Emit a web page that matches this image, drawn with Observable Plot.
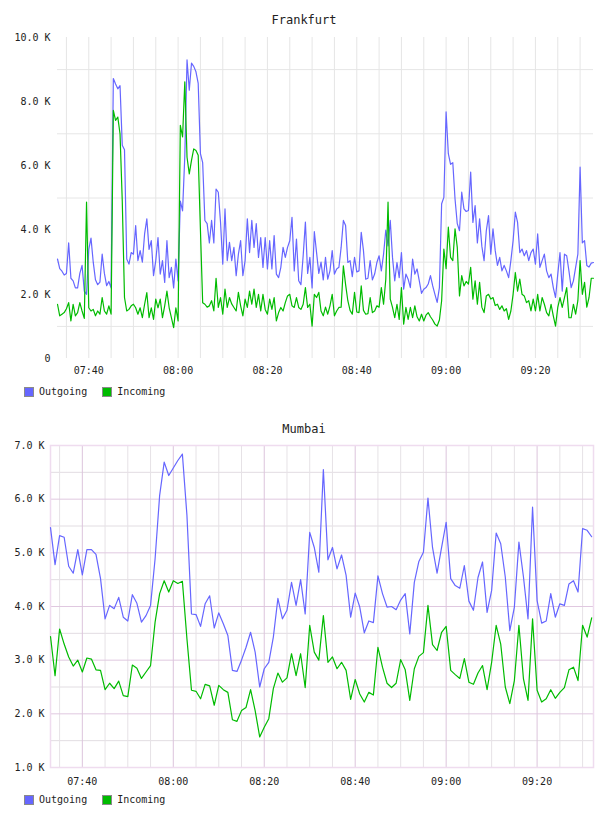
<!DOCTYPE html>
<html>
<head>
<meta charset="utf-8">
<script src="https://cdn.jsdelivr.net/npm/d3@7"></script>
<script src="https://cdn.jsdelivr.net/npm/@observablehq/plot@0.6"></script>
<style>
  body { margin: 0; background: #fff; }
  #page { position: relative; width: 608px; height: 816px; font-family: "DejaVu Sans Mono", monospace; color: #222; }
  .title { position: absolute; left: 0; width: 608px; text-align: center; font-size: 12px; line-height: 12px; }
  .chart { position: absolute; left: 0; }
  .legend { position: absolute; left: 24px; display: flex; align-items: center; font-size: 10px; line-height: 10px; }
  .item { display: flex; align-items: center; margin-right: 15px; }
  .sw { display: inline-block; width: 8px; height: 8px; border: 1px solid #8a8a8a; margin-right: 5px; }
</style>
</head>
<body>
<div id="page">
  <div class="title" style="top:14px">Frankfurt</div>
  <div class="chart" id="frankfurt" style="top:30px"></div>
  <div class="legend" style="top:387px">
    <span class="item"><span class="sw" style="background:#6666ff"></span>Outgoing</span>
    <span class="item"><span class="sw" style="background:#00bb00"></span>Incoming</span>
  </div>
  <div class="title" style="top:423px">Mumbai</div>
  <div class="chart" id="mumbai" style="top:438px"></div>
  <div class="legend" style="top:795px">
    <span class="item"><span class="sw" style="background:#6666ff"></span>Outgoing</span>
    <span class="item"><span class="sw" style="background:#00bb00"></span>Incoming</span>
  </div>
</div>
<script>
// Frankfurt: one sample every 30 s, values in thousands
const frOutgoing = [
  3.1, 2.8, 2.72, 2.6, 2.65, 3.6, 2.5, 2.42, 2.2, 2.2,
  2.65, 2.9, 2.1, 2.0, 3.4, 3.75, 3.0, 2.45, 2.3, 2.38,
  3.25, 2.65, 2.27, 2.4, 2.2, 8.72, 8.55, 8.4, 8.5, 6.64,
  6.5, 3.1, 2.94, 3.3, 3.25, 4.14, 3.05, 3.36, 3.0, 3.88,
  4.35, 3.4, 3.67, 2.58, 3.05, 3.77, 2.63, 3.05, 2.37, 3.67,
  2.52, 2.84, 2.2, 3.1, 2.42, 4.9, 4.6, 6.3, 9.3, 8.36,
  9.2, 9.1, 8.93, 8.57, 6.38, 6.1, 4.3, 4.2, 3.6, 4.3,
  3.6, 5.28, 5.18, 4.24, 2.94, 4.66, 3.05, 3.62, 3.05, 3.46,
  2.58, 3.25, 3.67, 2.58, 3.05, 4.35, 3.3, 4.3, 3.46, 4.2,
  3.15, 3.77, 2.84, 3.77, 2.79, 3.67, 2.79, 3.83, 2.63, 2.52,
  2.84, 3.46, 3.15, 3.46, 3.67, 4.4, 2.73, 3.72, 2.42, 2.3,
  3.2, 4.25, 2.65, 3.15, 2.2, 3.95, 3.3, 2.65, 3.0, 2.45,
  3.15, 2.47, 2.73, 3.36, 2.63, 2.79, 2.84, 3.46, 4.3, 4.14,
  2.99, 3.05, 2.55, 3.15, 2.7, 2.73, 3.93, 3.36, 2.47, 2.5,
  3.05, 2.45, 2.63, 2.99, 3.2, 2.73, 3.25, 4.0, 3.51, 4.3,
  3.15, 2.42, 2.99, 2.52, 3.3, 2.16, 2.63, 2.47, 2.21, 3.1,
  2.63, 2.79, 2.42, 2.03, 2.16, 2.21, 2.32, 2.58, 2.26, 2.0,
  1.75, 2.21, 4.82, 5.02, 7.68, 6.38, 6.05, 6.1, 4.97, 4.2,
  3.98, 5.18, 4.66, 4.58, 4.61, 5.81, 4.24, 4.76, 3.6, 4.35,
  3.5, 3.05, 3.98, 4.45, 3.25, 4.04, 3.36, 2.9, 3.15, 2.73,
  2.9, 2.73, 2.52, 3.05, 3.67, 4.56, 4.24, 3.3, 3.41, 3.2,
  3.36, 3.05, 3.3, 3.41, 2.94, 3.88, 2.84, 3.05, 3.25, 2.73,
  2.52, 2.63, 2.21, 1.9, 2.63, 3.3, 2.1, 3.25, 3.2, 2.73,
  2.21, 2.42, 2.84, 3.25, 5.96, 3.6, 3.67, 2.9, 2.85, 2.97,
  2.99
];
const frIncoming = [
  1.69, 1.33, 1.38, 1.43, 1.55, 1.74, 1.17, 1.69, 1.33, 1.43,
  1.74, 1.48, 1.25, 4.87, 1.58, 1.48, 1.53, 1.33, 1.48, 1.38,
  1.9, 1.48, 1.38, 1.64, 1.38, 7.73, 7.42, 7.52, 7.0, 4.9,
  1.9, 1.48, 1.53, 1.64, 1.69, 1.58, 1.38, 1.58, 1.27, 1.69,
  2.05, 1.27, 1.58, 1.22, 1.85, 1.58, 1.85, 1.27, 1.64, 2.1,
  1.58, 1.27, 0.96, 1.58, 1.17, 7.26, 6.9, 8.62, 6.27, 5.75,
  6.17, 6.53, 6.48, 6.33, 4.0, 1.74, 1.69, 1.6, 1.64, 1.8,
  1.48, 2.5, 1.59, 1.9, 1.38, 2.16, 1.59, 1.9, 1.7, 1.59,
  1.48, 2.06, 1.64, 1.33, 1.85, 1.59, 2.1, 1.69, 2.16, 1.59,
  2.0, 1.48, 2.0, 1.53, 1.38, 1.85, 1.53, 1.9, 1.17, 1.43,
  1.59, 1.48, 1.74, 1.95, 2.0, 1.64, 1.59, 1.9, 1.59, 1.53,
  1.69, 2.21, 1.59, 1.69, 1.01, 2.0, 1.9, 2.06, 1.48, 1.33,
  1.6, 1.38, 1.64, 2.0, 1.33, 1.48, 1.59, 1.6, 2.89, 2.3,
  1.8, 1.5, 1.38, 2.06, 1.45, 1.43, 2.26, 1.5, 1.38, 1.4,
  1.9, 1.43, 1.48, 1.64, 1.6, 2.21, 1.69, 2.47, 4.87, 1.85,
  1.59, 1.27, 1.69, 1.22, 2.21, 1.07, 1.59, 1.22, 1.59, 1.27,
  1.64, 1.3, 1.17, 1.38, 1.17, 1.35, 1.43, 1.3, 1.2, 1.07,
  1.01, 1.2, 1.8, 3.41, 2.8, 4.09, 3.15, 3.05, 4.04, 3.46,
  1.95, 2.58, 2.26, 2.4, 2.32, 2.84, 1.85, 2.42, 1.69, 2.37,
  1.6, 1.43, 1.95, 2.0, 1.85, 1.9, 1.65, 1.69, 1.53, 1.64,
  1.48, 1.55, 1.22, 1.48, 2.0, 2.68, 2.1, 2.47, 2.0, 1.95,
  1.74, 1.8, 1.48, 1.85, 1.48, 2.0, 1.48, 1.9, 1.69, 1.43,
  1.33, 1.69, 1.33, 1.01, 1.59, 1.9, 1.59, 1.9, 2.21, 1.27,
  1.27, 1.69, 1.38, 1.8, 3.05, 2.0, 2.37, 1.6, 1.9, 2.5,
  2.5
];

// Mumbai: one sample per minute, values in thousands
const mbOutgoing = [
  5.47, 4.78, 5.32, 5.29, 4.75, 4.62, 5.06, 4.59, 5.06, 5.06,
  4.97, 4.52, 3.77, 4.02, 3.96, 4.17, 3.8, 3.73, 4.22, 4.06,
  3.71, 3.83, 4.02, 4.89, 6.07, 6.69, 6.44, 6.58, 6.72, 6.84,
  5.7, 3.86, 3.85, 3.63, 4.05, 4.2, 3.6, 3.88, 3.68, 3.46,
  2.81, 2.79, 3.0, 3.24, 3.52, 3.15, 2.5, 2.84, 2.96, 3.43,
  4.15, 3.77, 3.93, 4.45, 4.02, 4.5, 3.86, 5.38, 5.1, 4.64,
  6.55, 4.87, 5.1, 4.7, 4.96, 4.58, 3.8, 4.25, 3.99, 3.51,
  3.73, 3.7, 4.57, 4.24, 3.99, 4.0, 3.94, 4.12, 4.24, 3.49,
  4.45, 4.84, 5.01, 6.02, 5.1, 4.62, 5.1, 5.57, 4.52, 4.39,
  4.34, 4.76, 4.1, 3.93, 4.54, 4.83, 3.89, 4.3, 5.37, 5.17,
  4.55, 3.55, 3.99, 5.2, 4.55, 3.77, 5.85, 4.11, 3.69, 3.73,
  4.24, 3.8, 4.05, 4.02, 4.42, 4.48, 4.27, 5.45, 5.42, 5.3
];
const mbIncoming = [
  3.44, 2.71, 3.58, 3.3, 3.06, 2.89, 3.0, 2.78, 3.04, 3.02,
  2.82, 2.81, 2.45, 2.57, 2.47, 2.61, 2.34, 2.32, 2.91, 2.85,
  2.66, 2.78, 2.9, 3.71, 4.24, 4.48, 4.27, 4.48, 4.43, 4.47,
  3.4, 2.44, 2.42, 2.28, 2.55, 2.52, 2.16, 2.53, 2.45, 2.4,
  1.89, 1.86, 2.06, 2.12, 2.45, 2.06, 1.57, 1.75, 1.91, 2.47,
  2.76, 2.59, 2.67, 3.12, 2.71, 3.12, 2.49, 3.65, 3.15, 3.0,
  3.83, 2.96, 3.06, 2.84, 2.96, 2.81, 2.27, 2.64, 2.37, 2.22,
  2.4, 2.35, 3.24, 2.87, 2.57, 2.49, 2.57, 3.01, 2.82, 2.25,
  2.84, 3.07, 3.14, 4.02, 3.29, 3.18, 3.52, 3.63, 2.81, 2.73,
  2.66, 3.03, 2.59, 2.55, 2.76, 2.9, 2.45, 2.96, 3.65, 3.3,
  2.5, 2.19, 2.62, 3.65, 2.65, 2.25, 3.77, 2.44, 2.22, 2.28,
  2.45, 2.29, 2.4, 2.49, 2.82, 2.87, 2.62, 3.65, 3.43, 3.79
];

const frYTicks = [0, 2, 4, 6, 8, 10];
const frGridLevels = [1, 3, 5, 7, 9];
const mbYTicks = [1, 2, 3, 4, 5, 6, 7];
const mbGridMajor = [2, 3, 4, 5, 6];
const mbGridMinor = [1.5, 2.5, 3.5, 4.5, 5.5, 6.5];

const OUT_COLOR = "#6666ff";
const IN_COLOR = "#00bb00";

const T = (h, m, s = 0) => new Date(Date.UTC(2024, 0, 1, h, m, s));

function rows(outgoing, incoming, start, stepMs) {
  return outgoing.map((v, i) => ({
    time: new Date(+start + i * stepMs),
    outgoing: v,
    incoming: incoming[i]
  }));
}

const kFormat = d => d === 0 ? "0" : d.toFixed(1) + " K";
const hm = d3.utcFormat("%H:%M");

// ---- Frankfurt ----
const frStart = T(7, 33), frEnd = T(9, 33);
const frData = rows(frOutgoing, frIncoming, frStart, 30000);
const frGridTimes = d3.utcMinute.every(5).range(frStart, frEnd);
const frTickTimes = d3.utcMinute.every(20).range(frStart, frEnd);

const fr = Plot.plot({
  width: 608,
  height: 355,
  marginLeft: 57,
  marginRight: 15,
  marginTop: 7,
  marginBottom: 27,
  style: { fontFamily: "DejaVu Sans Mono, monospace", fontSize: "10px", color: "#222", background: "transparent" },
  x: { type: "utc", domain: [frStart, frEnd], ticks: frTickTimes, tickFormat: hm, tickSize: 0, tickPadding: 8, label: null },
  y: { domain: [0, 10], ticks: frYTicks, tickFormat: kFormat, tickSize: 0, tickPadding: 7, label: null },
  marks: [
    Plot.ruleY(frGridLevels, { stroke: "#e6e6e6", strokeWidth: 1 }),
    Plot.ruleX(frGridTimes, { stroke: "#e6e6e6", strokeWidth: 1 }),
    Plot.line(frData, { x: "time", y: "outgoing", stroke: OUT_COLOR, strokeWidth: 1.2 }),
    Plot.line(frData, { x: "time", y: "incoming", stroke: IN_COLOR, strokeWidth: 1.2 })
  ]
});
document.getElementById("frankfurt").appendChild(fr);

// ---- Mumbai ----
const mbStart = T(7, 33), mbEnd = T(9, 32, 24);
const mbData = rows(mbOutgoing, mbIncoming, mbStart, 60000);
const mbGridTimes = d3.utcMinute.every(5).range(mbStart, mbEnd);
const mbTickTimes = d3.utcMinute.every(20).range(mbStart, mbEnd);
const mbMinorTimes = mbGridTimes.filter(d => d.getUTCMinutes() % 20 !== 0);

const mb = Plot.plot({
  width: 608,
  height: 355,
  marginLeft: 50,
  marginRight: 15,
  marginTop: 7,
  marginBottom: 26,
  style: { fontFamily: "DejaVu Sans Mono, monospace", fontSize: "10px", color: "#222", background: "transparent" },
  x: { type: "utc", domain: [mbStart, mbEnd], ticks: mbTickTimes, tickFormat: hm, tickSize: 0, tickPadding: 10, label: null },
  y: { domain: [1, 7], ticks: mbYTicks, tickFormat: kFormat, tickSize: 0, tickPadding: 6, label: null },
  marks: [
    Plot.ruleY(mbGridMinor, { stroke: "#e2dde2", strokeWidth: 1 }),
    Plot.ruleX(mbMinorTimes, { stroke: "#e6e2e6", strokeWidth: 1 }),
    Plot.ruleY(mbGridMajor, { stroke: "#e0c8e0", strokeWidth: 1 }),
    Plot.ruleX(mbTickTimes, { stroke: "#dcc4dc", strokeWidth: 1 }),
    Plot.frame({ stroke: "#efdcef", strokeWidth: 1.5 }),
    Plot.line(mbData, { x: "time", y: "outgoing", stroke: OUT_COLOR, strokeWidth: 1.2 }),
    Plot.line(mbData, { x: "time", y: "incoming", stroke: IN_COLOR, strokeWidth: 1.2 })
  ]
});
document.getElementById("mumbai").appendChild(mb);
</script>
</body>
</html>
